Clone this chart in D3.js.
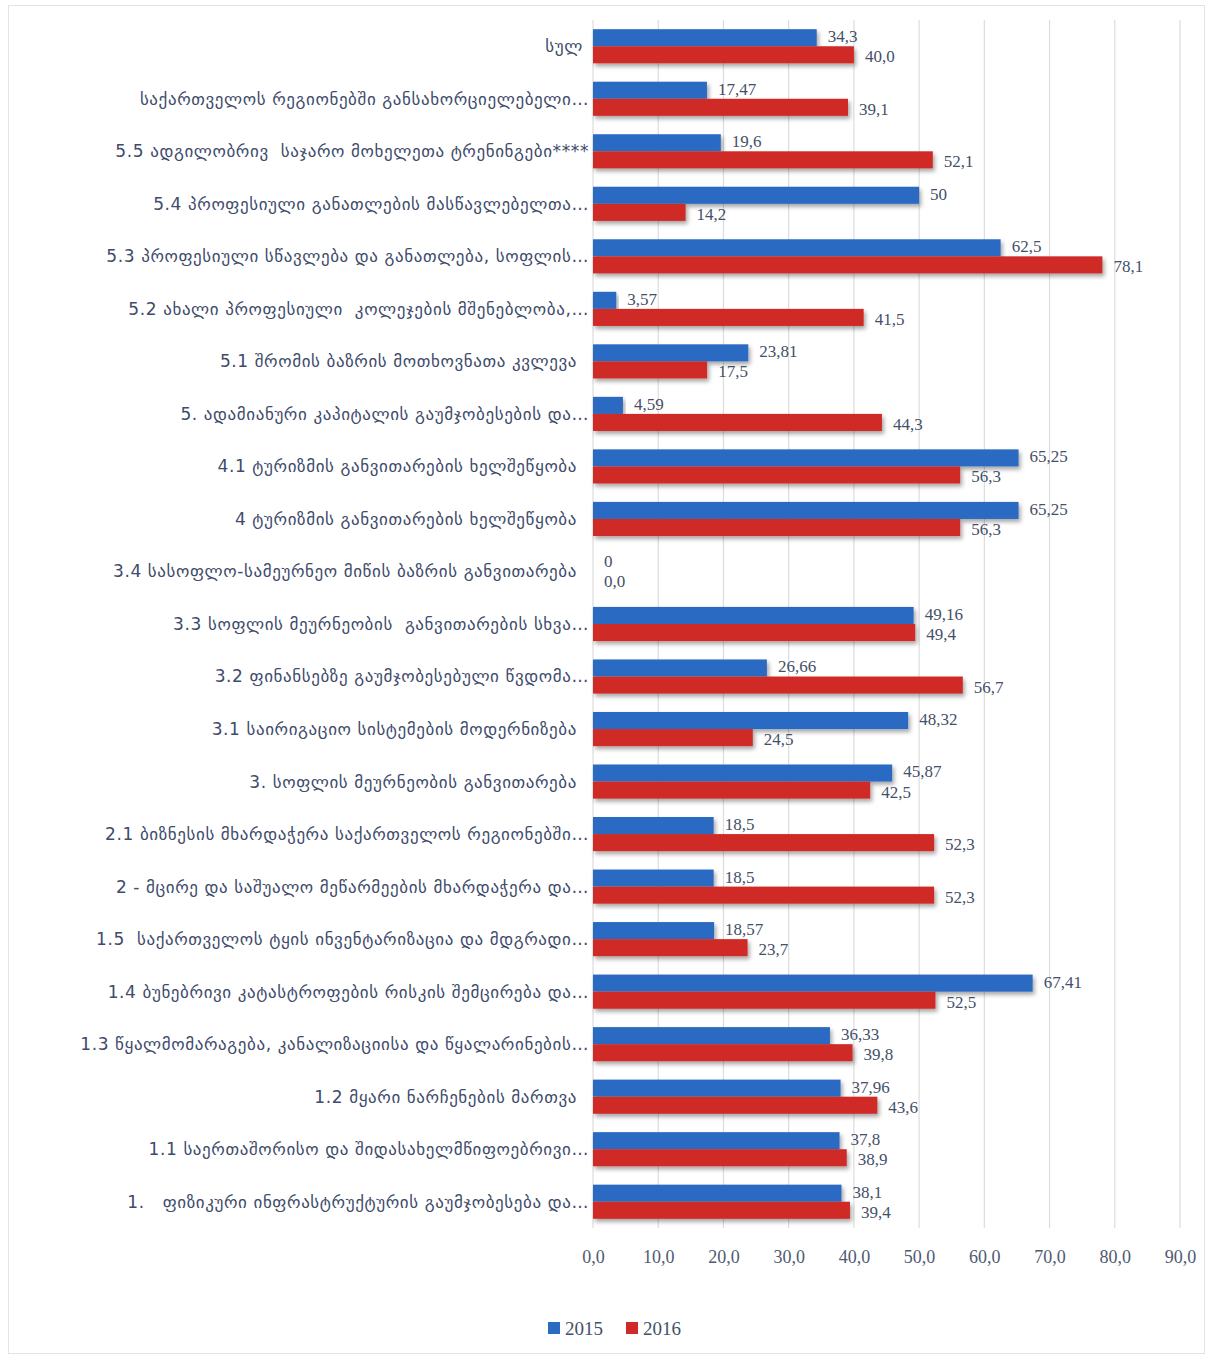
<!DOCTYPE html>
<html>
<head>
<meta charset="utf-8">
<script src="https://cdn.jsdelivr.net/npm/d3@7"></script>
<style>
  body { margin: 0; background: #fff; }
  text { white-space: pre; }
</style>
</head>
<body>
<script>
// categories, top to bottom as in the chart
var categories = [
  "სულ ",
  "საქართველოს რეგიონებში განსახორციელებელი…",
  "5.5 ადგილობრივ  საჯარო მოხელეთა ტრენინგები****",
  "5.4 პროფესიული განათლების მასწავლებელთა…",
  "5.3 პროფესიული სწავლება და განათლება, სოფლის…",
  "5.2 ახალი პროფესიული  კოლეჯების მშენებლობა,…",
  "5.1 შრომის ბაზრის მოთხოვნათა კვლევა  ",
  "5. ადამიანური კაპიტალის გაუმჯობესების და…",
  "4.1 ტურიზმის განვითარების ხელშეწყობა  ",
  "4 ტურიზმის განვითარების ხელშეწყობა  ",
  "3.4 სასოფლო-სამეურნეო მიწის ბაზრის განვითარება  ",
  "3.3 სოფლის მეურნეობის  განვითარების სხვა…",
  "3.2 ფინანსებზე გაუმჯობესებული წვდომა…",
  "3.1 საირიგაციო სისტემების მოდერნიზება  ",
  "3. სოფლის მეურნეობის განვითარება  ",
  "2.1 ბიზნესის მხარდაჭერა საქართველოს რეგიონებში…",
  "2 - მცირე და საშუალო მეწარმეების მხარდაჭერა და…",
  "1.5  საქართველოს ტყის ინვენტარიზაცია და მდგრადი…",
  "1.4 ბუნებრივი კატასტროფების რისკის შემცირება და…",
  "1.3 წყალმომარაგება, კანალიზაციისა და წყალარინების…",
  "1.2 მყარი ნარჩენების მართვა  ",
  "1.1 საერთაშორისო და შიდასახელმწიფოებრივი…",
  "1.   ფიზიკური ინფრასტრუქტურის გაუმჯობესება და…"
];

var values2015 = [34.3, 17.47, 19.6, 50, 62.5, 3.57, 23.81, 4.59, 65.25, 65.25, 0, 49.16,
  26.66, 48.32, 45.87, 18.5, 18.5, 18.57, 67.41, 36.33, 37.96, 37.8, 38.1];
var values2016 = [40.0, 39.1, 52.1, 14.2, 78.1, 41.5, 17.5, 44.3, 56.3, 56.3, 0.0, 49.4,
  56.7, 24.5, 42.5, 52.3, 52.3, 23.7, 52.5, 39.8, 43.6, 38.9, 39.4];

var seriesNames = ["2015", "2016"];
var seriesColors = ["#2c6bc2", "#d02a26"];
var xTicks = [0, 10, 20, 30, 40, 50, 60, 70, 80, 90];

var width = 1210, height = 1358;
var margin = {top: 20, right: 30, bottom: 130, left: 593};
var plotBottom = 1228;

var svg = d3.select("body").append("svg")
    .attr("width", width)
    .attr("height", height);

// thin frame round the whole chart
svg.append("rect")
    .attr("x", 8.5).attr("y", 5.5)
    .attr("width", width - 14).attr("height", height - 10)
    .attr("fill", "none")
    .attr("stroke", "#e3e3e3");

var defs = svg.append("defs");
var shadow = defs.append("filter").attr("id", "shadow")
    .attr("x", "-5%").attr("y", "-30%").attr("width", "115%").attr("height", "180%");
shadow.append("feDropShadow")
    .attr("dx", 2).attr("dy", 3).attr("stdDeviation", 2)
    .attr("flood-color", "#000").attr("flood-opacity", 0.35);

var x = d3.scaleLinear()
    .domain([0, 90])
    .range([margin.left, 1180]);

var y = d3.scaleBand()
    .domain(d3.range(categories.length))
    .range([margin.top, plotBottom])
    .paddingInner(0.35)
    .paddingOuter(0.175);

var ySub = d3.scaleBand()
    .domain([0, 1])
    .range([0, y.bandwidth()]);

// vertical gridlines
svg.append("g")
    .selectAll("line")
    .data(xTicks)
    .join("line")
    .attr("x1", d => x(d)).attr("x2", d => x(d))
    .attr("y1", margin.top).attr("y2", plotBottom)
    .attr("stroke", "#dcdcdc")
    .attr("stroke-width", 1.2);

// axis under the chart, ticks only as text
var xAxis = d3.axisBottom(x)
    .tickValues(xTicks)
    .tickSize(0)
    .tickPadding(0)
    .tickFormat(d => d.toFixed(1).replace(".", ","));

var gx = svg.append("g")
    .attr("transform", "translate(0," + (plotBottom + 22) + ")")
    .call(xAxis);
gx.select(".domain").remove();
gx.selectAll("text")
    .attr("font-family", "Liberation Serif, serif")
    .attr("font-size", 18)
    .attr("fill", "#4f5a70");

// category labels
svg.append("g")
    .selectAll("text")
    .data(categories)
    .join("text")
    .attr("x", margin.left - 4)
    .attr("y", (d, i) => y(i) + y.bandwidth() / 2)
    .attr("dy", "0.35em")
    .attr("text-anchor", "end")
    .attr("font-family", "DejaVu Sans, sans-serif")
    .attr("font-size", 17)
    .attr("letter-spacing", 0.6)
    .attr("fill", "#3e4b6b")
    .text(d => d);

var series = [values2015, values2016];

function fmt2015(v) { return String(v).replace(".", ","); }
function fmt2016(v) { return v.toFixed(1).replace(".", ","); }

series.forEach(function(vals, s) {
    var g = svg.append("g");
    g.selectAll("rect")
        .data(vals)
        .join("rect")
        .attr("x", x(0))
        .attr("y", (d, i) => y(i) + ySub(s))
        .attr("width", d => x(d) - x(0))
        .attr("height", ySub.bandwidth())
        .attr("fill", seriesColors[s])
        .attr("filter", "url(#shadow)");

    // value labels after the bar end, pushed apart a little so they don't collide
    var nudge = s == 0 ? -1.5 : 1.5;
    g.selectAll("text")
        .data(vals)
        .join("text")
        .attr("x", d => x(d) + 11)
        .attr("y", (d, i) => y(i) + ySub(s) + ySub.bandwidth() / 2 + nudge)
        .attr("dy", "0.35em")
        .attr("font-family", "Liberation Serif, serif")
        .attr("font-size", 17)
        .attr("fill", "#445069")
        .text(d => s == 0 ? fmt2015(d) : fmt2016(d));
});

// legend
var legend = svg.append("g").attr("transform", "translate(548,1328)");
seriesNames.forEach(function(name, i) {
    var item = legend.append("g").attr("transform", "translate(" + (i * 78) + ",0)");
    item.append("rect")
        .attr("x", 0).attr("y", -6)
        .attr("width", 12).attr("height", 12)
        .attr("fill", seriesColors[i]);
    item.append("text")
        .attr("x", 17).attr("y", 0).attr("dy", "0.35em")
        .attr("font-family", "Liberation Serif, serif")
        .attr("font-size", 19)
        .attr("fill", "#445069")
        .text(name);
});
</script>
</body>
</html>
